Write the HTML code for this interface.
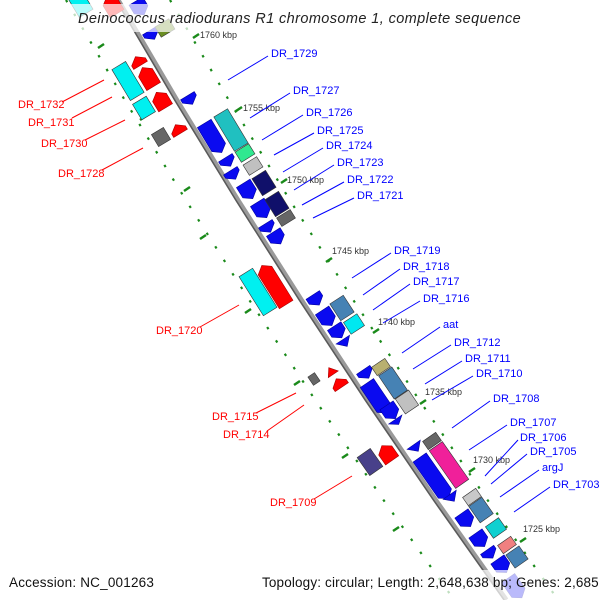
<!DOCTYPE html>
<html><head><meta charset="utf-8"><style>
html,body{margin:0;padding:0;background:#fff}
svg{display:block}
text{font-family:"Liberation Sans","DejaVu Sans",sans-serif}
.r{fill:#f00;font-size:11px}
.b{fill:#00f;font-size:11px}
.k{fill:#333;font-size:9px}
</style></head><body>
<svg width="600" height="600" viewBox="0 0 600 600" xmlns="http://www.w3.org/2000/svg">
<g fill="none" stroke="#1a8a1a" stroke-width="2.2" stroke-dasharray="2.5 13.5">
<polyline points="66,0 124.7,100 185.8,200 249.3,300 315.2,400 383.5,500 454.2,600"/>
<polyline points="170,0 228.7,100 289.8,200 353.3,300 419.2,400 487.5,500 558.2,600"/>
</g>
<g stroke="#1a8a1a" stroke-width="2.5">
<line x1="98" y1="48" x2="104" y2="44"/>
<line x1="140" y1="120" x2="146" y2="116"/>
<line x1="184" y1="191" x2="190" y2="187"/>
<line x1="200" y1="239" x2="206" y2="235"/>
<line x1="245" y1="313" x2="251" y2="309"/>
<line x1="294" y1="385" x2="300" y2="381"/>
<line x1="342" y1="458" x2="348" y2="454"/>
<line x1="393" y1="531" x2="399" y2="527"/>
<line x1="193" y1="38" x2="199" y2="34"/>
<line x1="236" y1="111" x2="242" y2="107"/>
<line x1="281" y1="183" x2="287" y2="179"/>
<line x1="326" y1="262" x2="332" y2="258"/>
<line x1="373" y1="333" x2="379" y2="329"/>
<line x1="420" y1="404" x2="426" y2="400"/>
<line x1="469" y1="472" x2="475" y2="468"/>
<line x1="520" y1="542" x2="526" y2="538"/>
</g>
<polyline points="118,0 176.7,100 237.8,200 301.3,300 367.2,400 435.5,500 506.2,600" fill="none" stroke="#9a9a9a" stroke-width="5"/>
<polyline points="116,0 174.7,100 235.8,200 299.3,300 365.2,400 433.5,500 504.2,600" fill="none" stroke="#5a5a5a" stroke-width="1.5"/>

<g fill="#0a0af0" stroke="#0000a0" stroke-width="0.6">
<g transform="translate(152,35) rotate(59)"><path d="M-5,-8H-1L5,0L-1,8H-5Z"/></g>
<g transform="translate(190,100) rotate(59)"><path d="M-5,-8H-1L5,0L-1,8H-5Z"/></g>
<g transform="translate(213,138) rotate(59)"><path d="M-17,-8H11L17,0L11,8H-17Z"/></g>
<g transform="translate(228,162) rotate(58)"><path d="M-5,-8H-1L5,0L-1,8H-5Z"/></g>
<g transform="translate(233,175) rotate(58)"><path d="M-5,-8H-1L5,0L-1,8H-5Z"/></g>
<g transform="translate(248,191) rotate(58)"><path d="M-9,-8H3L9,0L3,8H-9Z"/></g>
<g transform="translate(262,210) rotate(58)"><path d="M-9,-8H3L9,0L3,8H-9Z"/></g>
<g transform="translate(268,228) rotate(58)"><path d="M-5,-8H-1L5,0L-1,8H-5Z"/></g>
<g transform="translate(277,238) rotate(58)"><path d="M-7,-8H1L7,0L1,8H-7Z"/></g>
<g transform="translate(316,300) rotate(57)"><path d="M-6,-8H0L6,0L0,8H-6Z"/></g>
<g transform="translate(327,318) rotate(57)"><path d="M-9,-8H3L9,0L3,8H-9Z"/></g>
<g transform="translate(338,332) rotate(57)"><path d="M-7,-8H1L7,0L1,8H-7Z"/></g>
<g transform="translate(345,343) rotate(57)"><path d="M-4,-8L4,0L-4,8Z"/></g>
<g transform="translate(366,374) rotate(56)"><path d="M-5,-8H-1L5,0L-1,8H-5Z"/></g>
<g transform="translate(377,398) rotate(56)"><path d="M-18,-8H12L18,0L12,8H-18Z"/></g>
<g transform="translate(391,412) rotate(56)"><path d="M-8,-8H2L8,0L2,8H-8Z"/></g>
<g transform="translate(397,422) rotate(56)"><path d="M-3,-8L3,0L-3,8Z"/></g>
<g transform="translate(416,448) rotate(55)"><path d="M-4,-8L4,0L-4,8Z"/></g>
<g transform="translate(434,478) rotate(55)"><path d="M-25,-8H19L25,0L19,8H-25Z"/></g>
<g transform="translate(452,498) rotate(55)"><path d="M-4,-8L4,0L-4,8Z"/></g>
<g transform="translate(466,520) rotate(55)"><path d="M-8,-8H2L8,0L2,8H-8Z"/></g>
<g transform="translate(480,540) rotate(55)"><path d="M-8,-8H2L8,0L2,8H-8Z"/></g>
<g transform="translate(490,554) rotate(55)"><path d="M-5,-8H-1L5,0L-1,8H-5Z"/></g>
<g transform="translate(502,566) rotate(55)"><path d="M-8,-8H2L8,0L2,8H-8Z"/></g>
<g transform="translate(515,588) rotate(55)"><path d="M-12,-8H6L12,0L6,8H-12Z"/></g>
<g transform="translate(140,8) rotate(59)"><path d="M-8,-8H2L8,0L2,8H-8Z"/></g>
</g>

<g stroke-width="0.6" stroke="#333">
<g transform="translate(231,130) rotate(59)"><rect x="-20" y="-8" width="40" height="16" fill="#20c0c0"/></g>
<g transform="translate(245,153) rotate(58)"><rect x="-6" y="-8" width="12" height="16" fill="#30e890"/></g>
<g transform="translate(253,166) rotate(58)"><rect x="-6" y="-8" width="12" height="16" fill="#c0c0c0"/></g>
<g transform="translate(264,183) rotate(58)"><rect x="-10" y="-8" width="20" height="16" fill="#10106a"/></g>
<g transform="translate(277,204) rotate(58)"><rect x="-10" y="-8" width="20" height="16" fill="#10106a"/></g>
<g transform="translate(286,218) rotate(58)"><rect x="-5" y="-8" width="10" height="16" fill="#666"/></g>
<g transform="translate(342,308) rotate(57)"><rect x="-10" y="-8" width="20" height="16" fill="#4682b4"/></g>
<g transform="translate(354,324) rotate(57)"><rect x="-7" y="-8" width="14" height="16" fill="#00e8f0"/></g>
<g transform="translate(381,367) rotate(56)"><rect x="-5" y="-8" width="10" height="16" fill="#b8b070"/></g>
<g transform="translate(393,383) rotate(56)"><rect x="-14" y="-8" width="28" height="16" fill="#4682b4"/></g>
<g transform="translate(407,402) rotate(56)"><rect x="-9" y="-8" width="18" height="16" fill="#c0c0c0"/></g>
<g transform="translate(432,441) rotate(55)"><rect x="-5" y="-8" width="10" height="16" fill="#666"/></g>
<g transform="translate(449,465) rotate(55)"><rect x="-23" y="-8" width="46" height="16" fill="#f0209a"/></g>
<g transform="translate(472,497) rotate(55)"><rect x="-5" y="-8" width="10" height="16" fill="#c8c8c8"/></g>
<g transform="translate(481,510) rotate(55)"><rect x="-10" y="-8" width="20" height="16" fill="#4682b4"/></g>
<g transform="translate(496,528) rotate(55)"><rect x="-7" y="-8" width="14" height="16" fill="#10d0d0"/></g>
<g transform="translate(507,545) rotate(55)"><rect x="-5" y="-8" width="10" height="16" fill="#f08080"/></g>
<g transform="translate(517,557) rotate(55)"><rect x="-8" y="-8" width="16" height="16" fill="#4682b4"/></g>
<g transform="translate(165,28) rotate(59)"><rect x="-6" y="-8" width="12" height="16" fill="#6b8e23"/></g>
</g>

<g stroke-width="0.6" stroke="#333">
<g transform="translate(128,81) rotate(59)"><rect x="-18" y="-8" width="36" height="16" fill="#00f0f0"/></g>
<g transform="translate(144,108) rotate(59)"><rect x="-9" y="-8" width="18" height="16" fill="#00f0f0"/></g>
<g transform="translate(161,137) rotate(59)"><rect x="-7" y="-7" width="14" height="14" fill="#666"/></g>
<g transform="translate(258,292) rotate(58)"><rect x="-23" y="-8" width="46" height="16" fill="#00f0f0"/></g>
<g transform="translate(314,379) rotate(56)"><rect x="-5" y="-4" width="10" height="8" fill="#666"/></g>
<g transform="translate(370,462) rotate(55)"><rect x="-11" y="-8" width="22" height="16" fill="#48408a"/></g>
<g transform="translate(80,3) rotate(59)"><rect x="-12" y="-8" width="24" height="16" fill="#00f0f0"/></g>
</g>

<g fill="#f00" stroke="#a00" stroke-width="0.6">
<g transform="translate(138,61) rotate(59)"><path d="M5,-8H1L-5,0L1,8H5Z"/></g>
<g transform="translate(148,77) rotate(59)"><path d="M11,-8H-5L-11,0L-5,8H11Z"/></g>
<g transform="translate(161,100) rotate(59)"><path d="M9,-8H-3L-9,0L-3,8H9Z"/></g>
<g transform="translate(178,129) rotate(59)"><path d="M5,-8H1L-5,0L1,8H5Z"/></g>
<g transform="translate(274,285) rotate(58)"><path d="M23,-8H-17L-23,0L-17,8H23Z"/></g>
<g transform="translate(331,371) rotate(56)"><path d="M4,-6L-4,0L4,6Z"/></g>
<g transform="translate(339,383) rotate(56)"><path d="M5,-8H1L-5,0L1,8H5Z"/></g>
<g transform="translate(387,453) rotate(55)"><path d="M9,-8H-3L-9,0L-3,8H9Z"/></g>
<g transform="translate(112,5) rotate(59)"><path d="M10,-8H-4L-10,0L-4,8H10Z"/></g>
</g>

<rect x="55" y="4" width="475" height="28" fill="#fff" opacity="0.72"/>
<rect x="0" y="570" width="600" height="30" fill="#fff" opacity="0.72"/>

<text x="78" y="23" font-size="14.5" font-style="italic" fill="#222" letter-spacing="0.4">Deinococcus radiodurans R1 chromosome 1, complete sequence</text>
<text x="9" y="587" font-size="13.5" fill="#111" letter-spacing="0.2">Accession: NC_001263</text>
<text x="262" y="587" font-size="13.5" fill="#111" letter-spacing="0.15">Topology: circular; Length: 2,648,638 bp; Genes: 2,685</text>

<text class="k" x="200" y="38">1760 kbp</text>
<text class="k" x="243" y="111">1755 kbp</text>
<text class="k" x="287" y="183">1750 kbp</text>
<text class="k" x="332" y="254">1745 kbp</text>
<text class="k" x="378" y="325">1740 kbp</text>
<text class="k" x="425" y="395">1735 kbp</text>
<text class="k" x="473" y="463">1730 kbp</text>
<text class="k" x="523" y="532">1725 kbp</text>

<g stroke="#f00" stroke-width="1">
<line x1="62" y1="102" x2="104" y2="80"/>
<line x1="72" y1="118" x2="112" y2="97"/>
<line x1="85" y1="140" x2="125" y2="120"/>
<line x1="102" y1="170" x2="143" y2="148"/>
<line x1="200" y1="327" x2="239" y2="305"/>
<line x1="256" y1="413" x2="296" y2="393"/>
<line x1="267" y1="431" x2="304" y2="405"/>
<line x1="314" y1="499" x2="352" y2="476"/>
</g>
<text class="r" x="18" y="108">DR_1732</text>
<text class="r" x="28" y="126">DR_1731</text>
<text class="r" x="41" y="147">DR_1730</text>
<text class="r" x="58" y="177">DR_1728</text>
<text class="r" x="156" y="334">DR_1720</text>
<text class="r" x="212" y="420">DR_1715</text>
<text class="r" x="223" y="438">DR_1714</text>
<text class="r" x="270" y="506">DR_1709</text>

<g stroke="#00f" stroke-width="1">
<line x1="228" y1="80" x2="268" y2="56"/>
<line x1="250" y1="118" x2="290" y2="93"/>
<line x1="262" y1="140" x2="303" y2="115"/>
<line x1="274" y1="155" x2="314" y2="133"/>
<line x1="283" y1="172" x2="323" y2="148"/>
<line x1="294" y1="190" x2="334" y2="165"/>
<line x1="302" y1="205" x2="344" y2="182"/>
<line x1="313" y1="218" x2="354" y2="198"/>
<line x1="352" y1="278" x2="391" y2="253"/>
<line x1="363" y1="295" x2="400" y2="269"/>
<line x1="373" y1="310" x2="410" y2="284"/>
<line x1="383" y1="323" x2="420" y2="301"/>
<line x1="402" y1="353" x2="440" y2="327"/>
<line x1="413" y1="369" x2="451" y2="345"/>
<line x1="425" y1="384" x2="462" y2="361"/>
<line x1="432" y1="400" x2="473" y2="376"/>
<line x1="452" y1="428" x2="490" y2="401"/>
<line x1="469" y1="450" x2="507" y2="425"/>
<line x1="485" y1="476" x2="518" y2="440"/>
<line x1="491" y1="484" x2="527" y2="454"/>
<line x1="500" y1="497" x2="539" y2="470"/>
<line x1="514" y1="512" x2="550" y2="487"/>
</g>
<text class="b" x="271" y="57">DR_1729</text>
<text class="b" x="293" y="94">DR_1727</text>
<text class="b" x="306" y="116">DR_1726</text>
<text class="b" x="317" y="134">DR_1725</text>
<text class="b" x="326" y="149">DR_1724</text>
<text class="b" x="337" y="166">DR_1723</text>
<text class="b" x="347" y="183">DR_1722</text>
<text class="b" x="357" y="199">DR_1721</text>
<text class="b" x="394" y="254">DR_1719</text>
<text class="b" x="403" y="270">DR_1718</text>
<text class="b" x="413" y="285">DR_1717</text>
<text class="b" x="423" y="302">DR_1716</text>
<text class="b" x="443" y="328">aat</text>
<text class="b" x="454" y="346">DR_1712</text>
<text class="b" x="465" y="362">DR_1711</text>
<text class="b" x="476" y="377">DR_1710</text>
<text class="b" x="493" y="402">DR_1708</text>
<text class="b" x="510" y="426">DR_1707</text>
<text class="b" x="520" y="441">DR_1706</text>
<text class="b" x="530" y="455">DR_1705</text>
<text class="b" x="542" y="471">argJ</text>
<text class="b" x="553" y="488">DR_1703</text>
</svg>
</body></html>
